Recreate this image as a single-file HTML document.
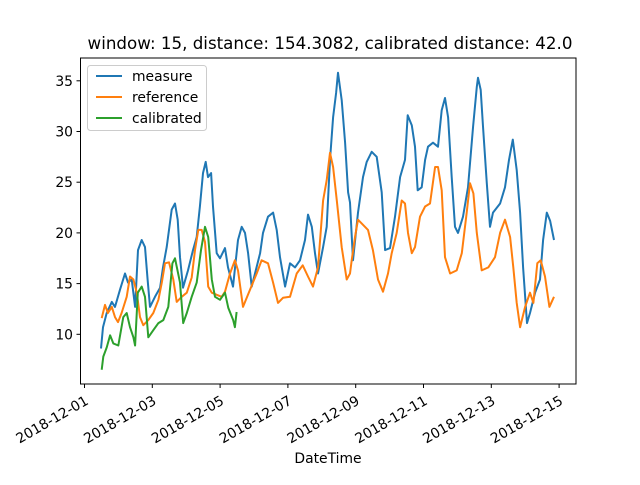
<!DOCTYPE html>
<html><head><meta charset="utf-8"><style>
body{margin:0;background:#fff;}
svg text{font-family:"DejaVu Sans","Liberation Sans",sans-serif;fill:#000;}
</style></head><body>
<svg id="chart" width="640" height="480" xmlns="http://www.w3.org/2000/svg">
<rect x="0" y="0" width="640" height="480" fill="#fff"/>
<text x="330" y="49" font-size="16.7" text-anchor="middle">window: 15, distance: 154.3082, calibrated distance: 42.0</text>
<g id="plot"></g>
<rect x="80.5" y="58" width="495.5" height="326" fill="none" stroke="#000" stroke-width="1"/>
<g id="yaxis"></g>
<g id="xaxis"></g>
<text x="328" y="463" font-size="13.9" text-anchor="middle">DateTime</text>
<g>
<rect x="87.5" y="65.5" width="119" height="65" rx="3" fill="#fff" fill-opacity="0.8" stroke="#ccc"/>
<line x1="96" y1="76" x2="122" y2="76" stroke="#1f77b4" stroke-width="2"/>
<text x="132" y="81" font-size="13.9">measure</text>
<line x1="96" y1="97" x2="122" y2="97" stroke="#ff7f0e" stroke-width="2"/>
<text x="132" y="102" font-size="13.9">reference</text>
<line x1="96" y1="118" x2="122" y2="118" stroke="#2ca02c" stroke-width="2"/>
<text x="132" y="123" font-size="13.9">calibrated</text>
</g>
</svg>
<script>
// hours since 2018-12-01 00:00
const measureT=[11.7,13.1,15.7,19.3,21.6,25.1,28.7,30.8,33.4,35.8,37.9,40.5,42.8,44.7,46.4,49.9,53.5,55.6,58.2,61.7,64.1,66.0,67.6,69.7,73.3,76.8,79.4,81.7,83.9,85.8,87.4,89.6,91.0,93.6,95.9,99.5,101.6,105.1,108.7,111.3,113.6,115.8,118.4,120.7,124.3,126.4,129.9,133.5,136.1,138.4,142.0,145.5,149.0,152.6,156.1,158.2,160.9,163.2,165.3,168.9,171.5,173.8,176.0,178.1,179.5,182.1,184.5,186.6,188.0,190.1,193.6,197.2,199.8,203.3,206.9,210.4,212.8,216.3,219.8,223.4,226.9,228.8,231.7,234.0,235.9,238.7,241.1,243.2,246.7,250.3,252.9,255.2,257.4,260.0,262.3,264.4,268.0,271.5,275.1,277.7,278.6,280.5,282.1,284.8,287.1,289.2,294.2,297.7,300.5,303.2,306.0,308.4,310.5,313.3,315.4,319.0,322.5,324.7,327.3,329.6,332.4];
const measureV=[8.6,10.7,12.1,13.2,12.7,14.4,16.0,15.1,15.4,12.7,18.3,19.3,18.6,15.4,12.7,13.7,14.6,16.6,18.6,22.3,22.9,21.3,17.6,14.6,16.3,18.3,19.6,22.6,25.9,27.0,25.5,25.9,22.6,18.0,17.5,18.5,16.6,14.7,19.3,20.6,20.0,18.0,14.7,16.0,18.0,20.0,21.6,22.0,20.3,17.6,14.7,17.0,16.6,17.3,19.3,21.8,20.6,18.0,16.0,18.6,20.6,27.2,31.4,33.8,35.8,33.1,28.9,24.0,23.0,17.3,22.0,25.5,27.0,28.0,27.5,24.0,18.3,18.5,21.6,25.5,27.2,31.6,30.6,28.5,24.2,24.5,27.2,28.5,28.9,28.5,32.1,33.3,31.4,25.5,20.6,20.0,21.6,24.5,30.5,34.4,35.3,34.1,30.5,24.9,20.6,22.0,22.9,24.5,27.2,29.2,26.2,22.0,16.6,11.1,12.1,14.1,15.4,19.3,22.0,21.2,19.3];
const referenceT=[12.2,14.5,16.6,19.3,21.6,23.7,26.3,29.9,32.2,34.6,37.0,39.3,41.6,45.2,48.7,52.3,54.7,57.0,59.8,62.9,65.3,68.8,72.4,75.9,78.2,80.6,83.0,85.3,87.6,90.1,93.6,97.1,99.5,103.0,106.5,108.7,112.2,117.2,121.9,125.4,129.9,133.5,137.0,140.5,145.5,150.2,154.5,158.2,161.8,165.3,168.9,171.5,173.8,176.0,178.6,182.1,185.6,188.0,189.2,191.5,193.6,197.2,200.7,204.2,207.8,211.3,214.9,217.5,221.0,224.6,226.9,229.0,231.7,234.0,237.5,241.1,244.6,248.2,250.3,252.9,255.2,258.8,263.5,267.1,270.6,272.9,275.3,277.7,281.2,285.9,290.6,294.2,297.7,301.3,303.6,306.0,308.4,311.9,315.4,317.8,320.6,323.0,326.0,329.1,332.4];
const referenceV=[11.6,12.9,12.1,12.7,11.7,11.2,12.1,13.7,15.7,15.4,14.1,11.7,10.9,11.4,12.1,13.4,15.1,17.0,17.1,15.4,13.2,13.7,14.1,15.6,18.3,20.3,20.3,19.1,14.7,14.1,13.9,13.7,14.2,16.0,17.3,16.3,12.7,14.4,16.0,17.3,17.0,15.1,13.1,13.6,13.7,16.0,16.8,15.7,14.7,16.6,23.2,25.2,27.9,26.5,23.2,18.6,15.4,16.0,17.3,19.6,21.3,20.8,20.3,18.3,15.4,14.2,16.0,18.0,20.0,23.2,22.9,20.0,18.0,18.6,21.6,22.6,22.9,26.5,26.5,24.2,17.6,16.0,16.3,18.0,22.0,24.9,23.9,20.0,16.3,16.6,17.6,20.0,21.3,19.6,16.6,13.1,10.7,12.7,14.1,13.1,17.0,17.3,15.7,12.7,13.7];
const calibratedT=[12.2,13.3,15.7,18.1,20.4,23.9,27.5,29.9,32.2,34.6,35.8,37.7,40.5,42.8,45.2,48.7,52.3,55.8,59.3,62.2,64.1,67.6,69.9,72.4,75.9,79.4,82.5,85.3,87.6,90.1,92.4,95.9,99.5,101.8,105.3,106.5,107.7];
const calibratedV=[6.5,7.8,8.7,9.9,9.1,8.9,11.7,12.1,10.7,9.7,8.9,14.1,14.7,13.7,9.7,10.4,11.1,11.4,12.7,17.0,17.5,15.1,11.1,12.1,13.7,15.1,18.3,20.6,19.6,15.4,13.7,13.4,14.1,12.6,11.4,10.7,12.2];
const yTicks=[10,15,20,25,30,35];
const xTickDays=[0,2,4,6,8,10,12,14];
const xTickLabels=["2018-12-01","2018-12-03","2018-12-05","2018-12-07","2018-12-09","2018-12-11","2018-12-13","2018-12-15"];

const NS="http://www.w3.org/2000/svg";
function xs(h){return 84.5+h*(33.9/24);}
function ys(v){return 334.3-(v-10)*10.14;}
const plot=document.getElementById('plot');
function series(T,V,color,name){
  const p=document.createElementNS(NS,'path');
  p.setAttribute('d',T.map((t,i)=>(i?'L':'M')+xs(t).toFixed(1)+','+ys(V[i]).toFixed(1)).join(''));
  p.setAttribute('fill','none');p.setAttribute('stroke',color);p.setAttribute('stroke-width','2');
  p.setAttribute('stroke-linejoin','round');
  
  
  plot.appendChild(p);
}
series(measureT,measureV,'#1f77b4','measure-line');
series(referenceT,referenceV,'#ff7f0e','reference-line');
series(calibratedT,calibratedV,'#2ca02c','calibrated-line');

const ya=document.getElementById('yaxis');
yTicks.forEach(v=>{
  const y=ys(v);
  const l=document.createElementNS(NS,'line');
  l.setAttribute('x1',76.5);l.setAttribute('x2',80.5);l.setAttribute('y1',y);l.setAttribute('y2',y);l.setAttribute('stroke','#000');
  
  
  ya.appendChild(l);
  const t=document.createElementNS(NS,'text');
  t.setAttribute('x',73);t.setAttribute('y',y+5);t.setAttribute('font-size','13.9');t.setAttribute('text-anchor','end');
  t.textContent=v;
  
  
  ya.appendChild(t);
});
const xa=document.getElementById('xaxis');
xTickDays.forEach((d,i)=>{
  const x=xs(d*24);
  const l=document.createElementNS(NS,'line');
  l.setAttribute('x1',x);l.setAttribute('x2',x);l.setAttribute('y1',384);l.setAttribute('y2',388);l.setAttribute('stroke','#000');
  
  
  xa.appendChild(l);
  const t=document.createElementNS(NS,'text');
  t.setAttribute('font-size','13.9');t.setAttribute('text-anchor','end');
  t.setAttribute('transform','translate('+(x)+',395) rotate(-30)');
  t.setAttribute('dy','0.7em');
  t.textContent=xTickLabels[i];
  
  
  xa.appendChild(t);
});
</script>
</body></html>
